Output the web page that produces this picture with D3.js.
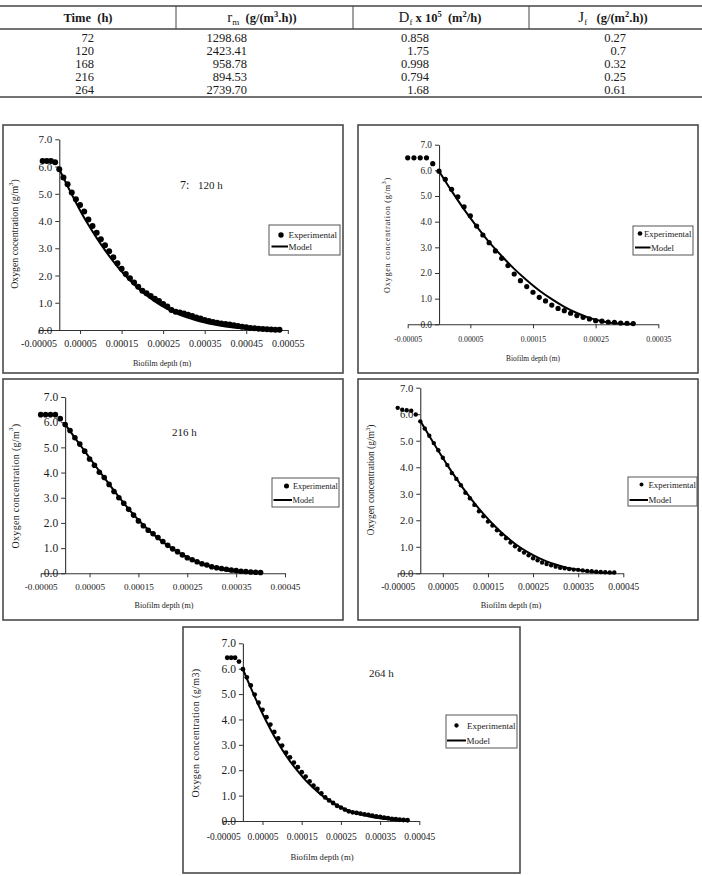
<!DOCTYPE html>
<html><head><meta charset="utf-8">
<script src="https://cdn.jsdelivr.net/npm/d3@7"></script>
<style>
body{margin:0;background:#fff}
svg{display:block}
text{font-family:"Liberation Serif","Times New Roman",serif;fill:#1a1a1a;white-space:pre}
</style>
</head><body><svg id="c" width="702" height="876"></svg>
<script>
// ---------- table data ----------
const timeH = ["72","120","168","216","264"];
const rmVals = ["1298.68","2423.41","958.78","894.53","2739.70"];
const dfVals = ["0.858","1.75","0.998","0.794","1.68"];
const jfVals = ["0.27","0.7","0.32","0.25","0.61"];

// ---------- axis tick labels ----------
const yTickVals = [0,1,2,3,4,5,6,7];
const yTickLabels = ["0.0","1.0","2.0","3.0","4.0","5.0","6.0","7.0"];
const xTicks55 = [-50,50,150,250,350,450,550];           // depth in micrometres
const xLabels55 = ["-0.00005","0.00005","0.00015","0.00025","0.00035","0.00045","0.00055"];
const xTicks35 = [-50,50,150,250,350];
const xLabels35 = ["-0.00005","0.00005","0.00015","0.00025","0.00035"];
const xTicks45 = [-50,50,150,250,350,450];
const xLabels45 = ["-0.00005","0.00005","0.00015","0.00025","0.00035","0.00045"];

// ---------- panel 1 (120 h) : depth in micrometres, oxygen g/m3 ----------
const p1ExpX = [-40,-30,-20,-10,0,10,20,30,40,50,60,70,80,90,100,110,120,130,140,150,160,170,180,190,200,210,220,230,240,250,260,270,280,290,300,310,320,330,340,350,360,370,380,390,400,410,420,430,440,450,460,470,480,490,500,510,520,530];
const p1ExpY = [6.2,6.2,6.2,6.16,5.9,5.6,5.35,5.05,4.8,4.59,4.35,4.06,3.82,3.57,3.33,3.11,2.89,2.67,2.45,2.25,2.06,1.9,1.74,1.59,1.44,1.35,1.25,1.15,1.06,0.95,0.86,0.73,0.67,0.64,0.61,0.56,0.51,0.46,0.42,0.37,0.33,0.29,0.27,0.24,0.22,0.2,0.17,0.15,0.12,0.1,0.07,0.06,0.05,0.04,0.03,0.02,0.01,0.01];
const p1ModX = [0,20,40,60,80,100,120,140,160,180,200,220,240,260,280,300,320,340,360,380,400,420,440,460,480,500,530];
const p1ModY = [5.9,5.28,4.68,4.12,3.62,3.15,2.72,2.33,1.98,1.67,1.4,1.16,0.95,0.78,0.63,0.5,0.4,0.31,0.24,0.18,0.13,0.09,0.06,0.04,0.02,0.01,0];

// ---------- panel 2 ----------
const p2ExpX = [-50,-40,-30,-20,-10,0,10,20,30,40,50,60,70,80,90,100,110,120,130,140,150,160,170,180,190,200,210,220,230,240,250,260,270,280,290,300,310];
const p2ExpY = [6.49,6.49,6.49,6.49,6.26,5.97,5.65,5.26,4.97,4.58,4.23,3.83,3.48,3.18,2.86,2.57,2.29,1.96,1.7,1.47,1.25,1.05,0.91,0.75,0.62,0.53,0.43,0.34,0.27,0.21,0.14,0.12,0.09,0.08,0.05,0.04,0.03];
const p2ModX = [0,20,40,60,80,100,120,140,160,180,200,220,240,260,280,300,310];
const p2ModY = [5.97,5.2,4.48,3.82,3.2,2.66,2.16,1.72,1.32,0.98,0.68,0.44,0.25,0.12,0.04,0.01,0];

// ---------- panel 3 (216 h) ----------
const p3ExpX = [-50,-40,-30,-20,-10,0,10,20,30,40,50,60,70,80,90,100,110,120,130,140,150,160,170,180,190,200,210,220,230,240,250,260,270,280,290,300,310,320,330,340,350,360,370,380,390,400];
const p3ExpY = [6.3,6.3,6.3,6.3,6.14,5.91,5.67,5.38,5.13,4.85,4.54,4.29,4.01,3.8,3.53,3.25,3.0,2.78,2.54,2.31,2.08,1.89,1.71,1.57,1.42,1.26,1.11,0.97,0.86,0.73,0.62,0.54,0.46,0.38,0.33,0.26,0.22,0.19,0.16,0.13,0.11,0.08,0.07,0.05,0.04,0.03];
const p3ModX = [0,20,40,60,80,100,120,140,160,180,200,220,240,260,280,300,320,340,360,380,400];
const p3ModY = [5.92,5.38,4.85,4.32,3.8,3.28,2.79,2.33,1.92,1.56,1.24,0.97,0.74,0.54,0.38,0.25,0.15,0.08,0.04,0.01,0];

// ---------- panel 4 ----------
const p4ExpX = [-50,-40,-30,-20,-10,0,10,20,30,40,50,60,70,80,90,100,110,120,130,140,150,160,170,180,190,200,210,220,230,240,250,260,270,280,290,300,310,320,330,340,350,360,370,380,390,400,410,420,430];
const p4ExpY = [6.24,6.17,6.15,6.13,5.99,5.73,5.46,5.19,4.91,4.64,4.36,4.08,3.78,3.56,3.32,3.04,2.83,2.58,2.34,2.15,1.95,1.8,1.62,1.47,1.32,1.16,1.02,0.89,0.78,0.68,0.57,0.49,0.41,0.35,0.3,0.25,0.21,0.19,0.16,0.14,0.13,0.11,0.09,0.08,0.06,0.05,0.04,0.03,0.03];
const p4ModX = [0,20,40,60,80,100,120,140,160,180,200,220,240,260,280,300,320,340,360,380,400,430];
const p4ModY = [5.75,5.18,4.62,4.08,3.57,3.09,2.65,2.24,1.87,1.54,1.25,0.99,0.78,0.6,0.45,0.33,0.23,0.16,0.1,0.06,0.03,0];

// ---------- panel 5 (264 h) ----------
const p5ExpX = [-40,-30,-20,-10,0,10,20,30,40,50,60,70,80,90,100,110,120,130,140,150,160,170,180,190,200,210,220,230,240,250,260,270,280,290,300,310,320,330,340,350,360,370,380,390,400,410,420];
const p5ExpY = [6.43,6.43,6.43,6.28,5.98,5.66,5.34,4.98,4.66,4.38,4.09,3.8,3.51,3.25,2.97,2.69,2.51,2.3,2.12,1.92,1.75,1.56,1.39,1.26,1.09,0.93,0.81,0.71,0.6,0.53,0.45,0.38,0.34,0.32,0.29,0.26,0.24,0.21,0.18,0.16,0.13,0.11,0.08,0.07,0.05,0.04,0.03];
const p5ModX = [0,20,40,60,80,100,120,140,160,180,200,220,240,260,280,300,320,340,360,380,400,420];
const p5ModY = [5.98,5.25,4.56,3.92,3.34,2.82,2.36,1.96,1.6,1.3,1.03,0.81,0.62,0.47,0.35,0.26,0.19,0.13,0.09,0.05,0.02,0];

const legendExp = "Experimental", legendMod = "Model";
const xTitle = "Biofilm depth (m)";

const svg = d3.select("#c");

// ================= TABLE =================
const lineCol = "#444";
const tTop = 6, tHead = 29, tBottom = 97;
[tTop, tHead, tBottom].forEach(yv => svg.append("line").attr("x1",0).attr("x2",702).attr("y1",yv).attr("y2",yv)
  .attr("stroke",lineCol).attr("stroke-width",1.3));
[176,353,529].forEach(xv => svg.append("line").attr("x1",xv).attr("x2",xv).attr("y1",tTop).attr("y2",tHead)
  .attr("stroke",lineCol).attr("stroke-width",1));

function header(cx, parts){
  const t = svg.append("text").attr("x",cx).attr("y",22).attr("text-anchor","middle").attr("font-size",12.5);
  parts.forEach(p => {
    const s = t.append("tspan").text(p.t).attr("font-weight", p.b ? "bold":"normal");
    if (p.sub) s.attr("font-size",9).attr("dy",3);
    if (p.sup) s.attr("font-size",8.5).attr("dy",-5);
    if (p.back) s.attr("dy",p.back);
    if (p.big) s.attr("font-size",15);
  });
}
header(88,[{t:"Time  (h)",b:true}]);
header(262,[{t:"r",big:true},{t:"m",sub:true},{t:"  (g/(m",b:true,back:-3},{t:"3",b:true,sup:true},{t:".h))",b:true,back:5}]);
header(440,[{t:"D",big:true},{t:"f",sub:true},{t:" x 10",b:true,back:-3},{t:"5",b:true,sup:true},{t:"  (m",b:true,back:5},{t:"2",b:true,sup:true},{t:"/h)",b:true,back:5}]);
header(613,[{t:"J",big:true},{t:"f",sub:true},{t:"   (g/(m",b:true,back:-3},{t:"2",b:true,sup:true},{t:".h))",b:true,back:5}]);

const rowY = [41.5, 54.5, 67.5, 80.5, 93.5];
const cols = [{vals:timeH,x:94},{vals:rmVals,x:247},{vals:dfVals,x:429},{vals:jfVals,x:626}];
cols.forEach(c => c.vals.forEach((v,i) =>
  svg.append("text").attr("x",c.x).attr("y",rowY[i]).attr("text-anchor","end").attr("font-size",12.5).text(v)));

// ================= PANELS =================
const panels = [
 {box:[3,125,343,373], xr:[38.5,287.8], yr:[330,139.3], xt:xTicks55, xl:xLabels55,
  ex:p1ExpX, ey:p1ExpY, mx:p1ModX, my:p1ModY, r:3,
  xfs:10, yfs:11, yl:{x:13.5,y:234,fs:9.8,ls:0,text:"Oxygen cocentration (g/m",sup:true},
  xtl:{x:162,y:366,fs:8}, xpad:6,
  titles:[{t:"7:",x:180,y:189,fs:12},{t:"120 h",x:198,y:189,fs:11}],
  leg:{box:[269,225,340,255],mx:281,my:235,tx:288.5,ly:246.5,lx0:271.5,lx1:288,fs:9}},
 {box:[358,125,698,373], xr:[407.7,658.3], yr:[324.3,144.7], xt:xTicks35, xl:xLabels35,
  ex:p2ExpX, ey:p2ExpY, mx:p2ModX, my:p2ModY, r:2.6,
  xfs:7.8, yfs:9.3, yl:{x:387,y:235,fs:8.2,ls:0.75,text:"Oxygen concentration (g/m",sup:true},
  xtl:{x:533,y:361,fs:7.4}, xpad:8,
  titles:[],
  leg:{box:[633,226,693,255],mx:640,my:233.5,tx:644,ly:247.5,lx0:635,lx1:650.5,fs:8.8}},
 {box:[3,379,343,620], xr:[40.7,285], yr:[573.3,397], xt:xTicks45, xl:xLabels45,
  ex:p3ExpX, ey:p3ExpY, mx:p3ModX, my:p3ModY, r:2.8,
  xfs:9.2, yfs:11.5, yl:{x:15,y:486,fs:10,ls:0.3,text:"Oxygen concentration (g/m",sup:true},
  xtl:{x:164,y:608,fs:8.1}, xpad:6,
  titles:[{t:"216 h",x:172,y:435.5,fs:11}],
  leg:{box:[272,478,339,507],mx:286.5,my:486,tx:293,ly:500,lx0:273.5,lx1:292,fs:8.3}},
 {box:[358,379,698,620], xr:[397.7,623.3], yr:[573.3,387.7], xt:xTicks45, xl:xLabels45,
  ex:p4ExpX, ey:p4ExpY, mx:p4ModX, my:p4ModY, r:2.2,
  xfs:9.5, yfs:10.7, yl:{x:371,y:480,fs:9.5,ls:0,text:"Oxygen concentration (g/m",sup:true},
  xtl:{x:511,y:608,fs:8.3}, xpad:6,
  titles:[],
  leg:{box:[628,477,697,506],mx:641.5,my:484.5,tx:648.5,ly:500,lx0:629.5,lx1:648,fs:8.8}},
 {box:[183,627,520,873], xr:[223.3,419.3], yr:[821,643.3], xt:xTicks45, xl:xLabels45,
  ex:p5ExpX, ey:p5ExpY, mx:p5ModX, my:p5ModY, r:2.4,
  xfs:9.5, yfs:11.5, yl:{x:195,y:733,fs:10,ls:0.4,text:"Oxygen concentration (g/m3)",sup:false},
  xtl:{x:322,y:860,fs:8.7}, xpad:8,
  titles:[{t:"264 h",x:369,y:677,fs:11}],
  leg:{box:[446,715,517,748],mx:456.5,my:725.5,tx:467,ly:740.5,lx0:447,lx1:466,fs:9}}
];

panels.forEach(p => {
  const g = svg.append("g");
  g.append("rect").attr("x",p.box[0]).attr("y",p.box[1]).attr("width",p.box[2]-p.box[0]).attr("height",p.box[3]-p.box[1])
    .attr("fill","#fff").attr("stroke","#4a4a4a").attr("stroke-width",1.6);
  const x = d3.scaleLinear().domain([p.xt[0], p.xt[p.xt.length-1]]).range(p.xr);
  const y = d3.scaleLinear().domain([0,7]).range(p.yr);

  const xa = g.append("g").attr("transform",`translate(0,${y(0)})`)
    .call(d3.axisBottom(x).tickValues(p.xt).tickFormat((d,i)=>p.xl[i]).tickSize(4).tickSizeOuter(0).tickPadding(p.xpad));
  const ya = g.append("g").attr("transform",`translate(${x(0)},0)`)
    .call(d3.axisLeft(y).tickValues(yTickVals).tickFormat((d,i)=>yTickLabels[i]).tickSize(4).tickSizeOuter(0).tickPadding(3));
  [xa,ya].forEach(a => {
    a.attr("font-family",null).attr("font-size",null);
    a.select(".domain").attr("stroke","#333").attr("stroke-width",1.1);
    a.selectAll(".tick line").attr("stroke","#333").attr("stroke-width",1);
    a.selectAll("text").attr("fill","#1a1a1a");
  });
  xa.selectAll("text").attr("font-size",p.xfs);
  ya.selectAll("text").attr("font-size",p.yfs);

  // model line
  const lineGen = d3.line().x((d,i)=>x(p.mx[i])).y((d,i)=>y(p.my[i])).curve(d3.curveMonotoneX);
  g.append("path").attr("d",lineGen(p.my)).attr("fill","none").attr("stroke","#000").attr("stroke-width",2);
  // experimental points
  g.selectAll(null).data(p.ey).enter().append("circle")
    .attr("cx",(d,i)=>x(p.ex[i])).attr("cy",d=>y(d)).attr("r",p.r).attr("fill","#000");

  // y title
  const yt = g.append("text").attr("transform",`translate(${p.yl.x},${p.yl.y}) rotate(-90)`)
    .attr("text-anchor","middle").attr("dominant-baseline","central")
    .attr("font-size",p.yl.fs).attr("letter-spacing",p.yl.ls);
  yt.append("tspan").text(p.yl.text);
  if (p.yl.sup) {
    yt.append("tspan").text("3").attr("font-size",p.yl.fs*0.7).attr("dy",-p.yl.fs*0.4);
    yt.append("tspan").text(")").attr("dy",p.yl.fs*0.4);
  }
  // x title
  g.append("text").attr("x",p.xtl.x).attr("y",p.xtl.y).attr("text-anchor","middle").attr("font-size",p.xtl.fs).text(xTitle);
  // panel titles
  p.titles.forEach(t => g.append("text").attr("x",t.x).attr("y",t.y).attr("font-size",t.fs).text(t.t));

  // legend
  const L = p.leg;
  const cid = "clip" + p.box[0] + "_" + p.box[1];
  g.append("clipPath").attr("id",cid).append("rect").attr("x",L.box[0]).attr("y",L.box[1]).attr("width",L.box[2]-L.box[0]).attr("height",L.box[3]-L.box[1]);
  g.append("rect").attr("x",L.box[0]).attr("y",L.box[1]).attr("width",L.box[2]-L.box[0]).attr("height",L.box[3]-L.box[1])
    .attr("fill","#fff").attr("stroke","#555").attr("stroke-width",1);
  g.append("circle").attr("cx",L.mx).attr("cy",L.my).attr("r",p.r*0.9).attr("fill","#000");
  g.append("text").attr("clip-path",`url(#${cid})`).attr("x",L.tx).attr("y",L.my).attr("dominant-baseline","central").attr("font-size",L.fs).text(legendExp);
  g.append("line").attr("x1",L.lx0).attr("x2",L.lx1).attr("y1",L.ly).attr("y2",L.ly).attr("stroke","#000").attr("stroke-width",2);
  g.append("text").attr("x",L.lx1+0.5).attr("y",L.ly).attr("dominant-baseline","central").attr("font-size",L.fs).text(legendMod);
});
</script></body></html>
